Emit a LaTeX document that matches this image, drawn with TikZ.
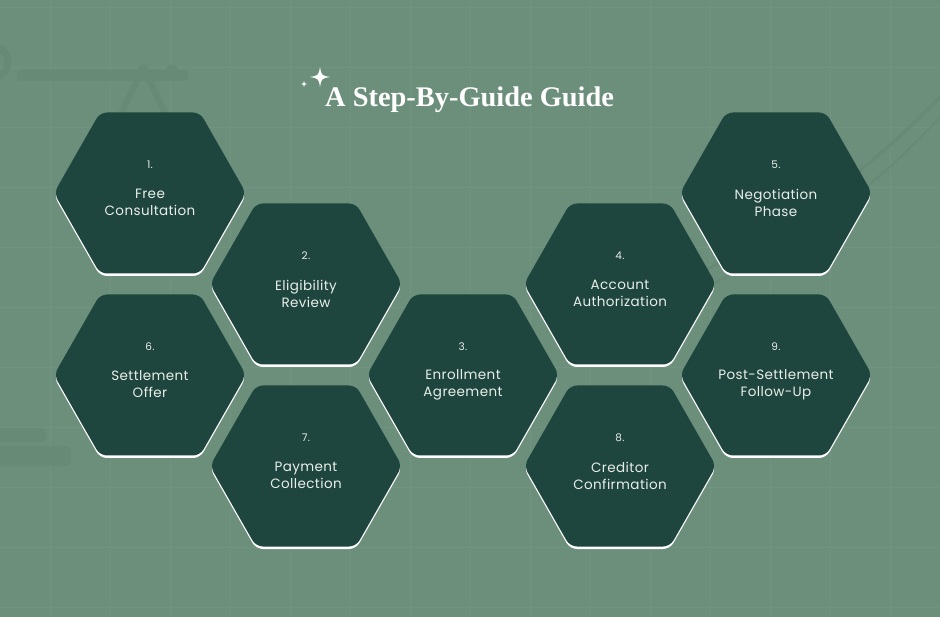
\documentclass[tikz,border=0pt]{standalone}
\usepackage{fontspec}
\setmainfont{Poppins}
\newfontfamily\labfont[LetterSpace=3]{Poppins}
\newfontfamily\titlefont{Liberation Serif}
\definecolor{bg}{RGB}{107,143,123}
\definecolor{hexc}{RGB}{31,70,62}
\definecolor{deco}{RGB}{102,138,118}
\definecolor{gridc}{RGB}{112,148,128}
\definecolor{txt}{RGB}{232,238,234}
\begin{document}
\begin{tikzpicture}[x=1pt,y=-1pt,
  hexfill/.style={fill=hexc, rounded corners=7pt},
  hexshadow/.style={fill=white, rounded corners=7pt},
  num/.style={font=\labfont\fontsize{10.5}{12}\selectfont, text=txt},
  lab/.style={font=\labfont\fontsize{13.5}{17}\selectfont, text=txt, align=center},
  decoline/.style={draw=deco, line cap=round},
]
\useasboundingbox (0,0) rectangle (940,617);
\fill[bg] (0,0) rectangle (940,617);
% grid
\foreach \gx in {50,110,...,890} \draw[gridc, line width=0.8] (\gx,0) -- (\gx,617);
\foreach \gy in {7,67,...,607} \draw[gridc, line width=0.8] (0,\gy) -- (940,\gy);
% faint decorations
\fill[deco, rounded corners=4] (17,70) rectangle (188,81);
\fill[deco] (143,71) circle (6);
\fill[deco] (172,71) circle (6);
\draw[decoline, line width=6] (141,72) -- (118,120);
\draw[decoline, line width=6] (146,72) -- (168,120);
\draw[decoline, line width=7] (-8,62) circle (16);
\draw[decoline, line width=3] (945,92) .. controls (850,190) and (760,250) .. (640,300);
\draw[decoline, line width=2] (945,112) .. controls (860,205) and (770,262) .. (650,312);
\fill[deco, rounded corners=5] (-5,428) rectangle (46,442);
\fill[deco, rounded corners=5] (-5,446) rectangle (71,466);
% hexagons
\foreach \i/\x/\y/\t in {
  1/150/193/{Free\\Consultation},
  2/306/284/{Eligibility\\Review},
  3/463/375/{Enrollment\\Agreement},
  4/620/284/{Account\\Authorization},
  5/776/193/{Negotiation\\Phase},
  6/150/375/{Settlement\\Offer},
  7/306/466/{Payment\\Collection},
  8/620/466/{Creditor\\Confirmation},
  9/776/375/{Post-Settlement\\Follow-Up}} {
  \coordinate (h\i) at (\x,\y);
  \begin{scope}[shift={(h\i)}]
    \fill[hexshadow] (-96,2.5) -- (-50,-78) -- (50,-78) -- (96,2.5) -- (50,83) -- (-50,83) -- cycle;
    \fill[hexfill] (-96,0) -- (-50,-80.5) -- (50,-80.5) -- (96,0) -- (50,80.5) -- (-50,80.5) -- cycle;
  \end{scope}
  \path (h\i) ++(0,-28) node[num] (n\i) {\i.};
  \path (h\i) ++(0,9.5) node[lab] (l\i) {\t};
}
% sparkles
\begin{scope}[shift={(320,77)}]
  \fill[white] (0,-10) .. controls (1.5,-1.5) .. (10,0) .. controls (1.5,1.5) .. (0,10)
    .. controls (-1.5,1.5) .. (-10,0) .. controls (-1.5,-1.5) .. (0,-10) -- cycle;
\end{scope}
\begin{scope}[shift={(304,84)}]
  \fill[white] (0,-3) .. controls (0.5,-0.5) .. (3,0) .. controls (0.5,0.5) .. (0,3)
    .. controls (-0.5,0.5) .. (-3,0) .. controls (-0.5,-0.5) .. (0,-3) -- cycle;
\end{scope}
% title
\node[font=\titlefont\bfseries\fontsize{28.4}{30}\selectfont, text=white, anchor=west, inner sep=0pt] (title) at (325,100) {A Step-By-Guide Guide};
\end{tikzpicture}
\end{document}
